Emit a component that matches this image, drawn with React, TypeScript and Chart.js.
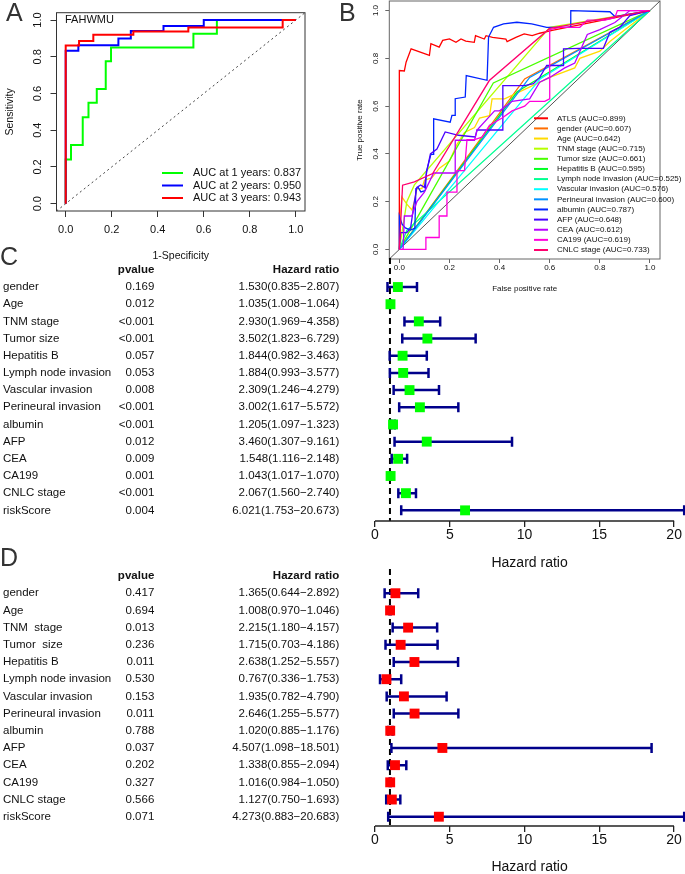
import React, { useEffect, useRef } from 'react';
import { Chart, registerables } from 'chart.js';

Chart.register(...registerables);

const FONT = '"Liberation Sans", Arial, Helvetica, sans-serif';
const INK = '#111111';

/* ---------------- Panel A : time-dependent ROC (FAHWMU) ---------------- */
const rocATag = 'FAHWMU';
const rocTicks = [0, 0.2, 0.4, 0.6, 0.8, 1.0];
const rocLimits = [-0.04, 1.04];
const rocALabels = ['AUC at 1 years: 0.837', 'AUC at 2 years: 0.950', 'AUC at 3 years: 0.943'];
const rocAColors = ['#00FF00', '#0000FF', '#FF0000'];
const rocA1Fpr = [0, 0, 0.023, 0.074, 0.099, 0.135, 0.174, 0.197, 0.555, 0.657, 1];
const rocA1Tpr = [0, 0.24, 0.32, 0.47, 0.55, 0.625, 0.775, 0.85, 0.925, 1, 1];
const rocA2Fpr = [0, 0, 0.055, 0.229, 0.283, 0.425, 0.6, 1];
const rocA2Tpr = [0, 0.833, 0.863, 0.9, 0.94, 0.968, 1, 1];
const rocA3Fpr = [0, 0, 0.058, 0.12, 0.294, 0.533, 0.943, 1];
const rocA3Tpr = [0, 0.862, 0.886, 0.92, 0.937, 0.96, 1, 1];

/* ---------------- Panel B : ROC of each factor ---------------- */
const rocBNames = ['ATLS', 'gender', 'Age', 'TNM stage', 'Tumor size', 'Hepatitis B', 'Lymph node invasion',
  'Vascular invasion', 'Perineural invasion', 'albumin', 'AFP', 'CEA', 'CA199', 'CNLC stage'];
const rocBAuc = [0.899, 0.607, 0.642, 0.715, 0.661, 0.595, 0.525, 0.576, 0.600, 0.787, 0.648, 0.612, 0.619, 0.733];
const rocBColors = ['#FF0000', '#FF6D00', '#FFDB00', '#B6FF00', '#49FF00', '#00FF24', '#00FF92',
  '#00FFFF', '#0092FF', '#0024FF', '#4900FF', '#B600FF', '#FF00DB', '#FF006D'];

const atlsFpr = [0, 0, 0.02, 0.027, 0.047, 0.12, 0.126, 0.159, 0.173, 0.2, 0.226, 0.246, 0.265, 0.299, 0.304, 0.339, 0.346, 0.372, 0.425, 0.43, 0.465, 0.498, 0.53, 0.56, 0.61, 1];
const atlsTpr = [0, 0.749, 0.747, 0.784, 0.84, 0.812, 0.861, 0.847, 0.875, 0.881, 0.867, 0.881, 0.872, 0.867, 0.895, 0.881, 0.895, 0.888, 0.881, 0.87, 0.888, 0.902, 0.895, 0.905, 0.917, 1];
const genderFpr = [0, 0.5, 1];
const genderTpr = [0, 0.714, 1];
const ageFpr = [0, 0.005, 0.01, 0.03, 0.05, 0.06, 0.07, 0.09, 0.1, 0.13, 0.16, 0.2, 0.23, 0.26, 0.3, 0.32, 0.36, 0.37, 0.42, 0.5, 0.6, 0.7, 0.72, 0.8, 0.84, 0.9, 1];
const ageTpr = [0, 0.15, 0.22, 0.19, 0.165, 0.2, 0.255, 0.255, 0.29, 0.3, 0.34, 0.37, 0.44, 0.49, 0.51, 0.55, 0.56, 0.63, 0.63, 0.67, 0.72, 0.76, 0.8, 0.83, 0.87, 0.92, 1];
const tnmFpr = [0, 0.03, 0.06, 0.6, 1];
const tnmTpr = [0, 0.2, 0.27, 0.93, 1];
const tumorFpr = [0, 0.375, 1];
const tumorTpr = [0, 0.697, 1];
const hepbFpr = [0, 0.47, 1];
const hepbTpr = [0, 0.66, 1];
const lymphFpr = [0, 0.03, 1];
const lymphTpr = [0, 0.08, 1];
const vascFpr = [0, 0.563, 1];
const vascTpr = [0, 0.715, 1];
const periFpr = [0, 0.52, 1];
const periTpr = [0, 0.72, 1];
const albuminFpr = [0, 0, 0.011, 0.024, 0.045, 0.062, 0.066, 0.075, 0.086, 0.1, 0.104, 0.108, 0.126, 0.137, 0.137, 0.203, 0.21, 0.223, 0.223, 0.263, 0.267, 0.35, 0.356, 0.376, 0.416, 0.469, 0.528, 0.588, 0.681, 0.684, 0.84, 0.86, 1];
const albuminTpr = [0, 0.14, 0.106, 0.09, 0.081, 0.089, 0.255, 0.26, 0.241, 0.245, 0.248, 0.325, 0.398, 0.398, 0.547, 0.533, 0.561, 0.561, 0.631, 0.638, 0.728, 0.708, 0.889, 0.93, 0.944, 0.951, 0.944, 0.93, 0.93, 1.0, 0.995, 0.975, 1];
const afpFpr = [0, 0.005, 0.03, 0.045, 0.06, 0.07, 0.085, 0.1, 0.11, 0.124, 0.15, 0.183, 0.236, 0.303, 0.31, 0.36, 0.413, 0.413, 0.5, 0.535, 0.56, 0.588, 0.655, 0.655, 0.714, 0.814, 0.84, 0.88, 0.92, 1];
const afpTpr = [0, 0.07, 0.07, 0.09, 0.2, 0.26, 0.27, 0.26, 0.33, 0.4, 0.42, 0.492, 0.478, 0.471, 0.5, 0.5, 0.5, 0.686, 0.686, 0.694, 0.72, 0.77, 0.77, 0.84, 0.842, 0.842, 0.909, 0.93, 0.979, 1];
const ceaFpr = [0, 0.015, 0.02, 0.05, 0.07, 0.1, 0.137, 0.223, 0.223, 0.3, 0.31, 0.38, 0.4, 0.45, 0.52, 0.56, 0.6, 0.66, 0.7, 0.75, 0.8, 0.86, 0.92, 1];
const ceaTpr = [0, 0.0, 0.14, 0.14, 0.2, 0.24, 0.32, 0.32, 0.457, 0.457, 0.5, 0.58, 0.58, 0.62, 0.63, 0.7, 0.72, 0.76, 0.78, 0.9, 0.92, 0.95, 1, 1];
const ca199Fpr = [0, 0.106, 0.106, 0.159, 0.159, 0.19, 0.19, 0.23, 0.23, 0.26, 0.27, 0.3, 0.33, 0.36, 0.41, 0.45, 0.5, 0.52, 0.58, 0.6, 0.6, 0.64, 0.72, 0.75, 0.82, 0.86, 0.87, 1];
const ca199Tpr = [0, 0, 0.05, 0.05, 0.14, 0.14, 0.24, 0.24, 0.33, 0.33, 0.46, 0.46, 0.47, 0.52, 0.55, 0.58, 0.6, 0.62, 0.62, 0.63, 0.92, 0.93, 0.93, 0.96, 0.96, 0.97, 1, 1];
const cnlcFpr = [0, 0.013, 0.06, 0.133, 0.359, 0.6, 1];
const cnlcTpr = [0, 0.269, 0.283, 0.318, 0.707, 0.925, 1];

const rocBFpr = [atlsFpr, genderFpr, ageFpr, tnmFpr, tumorFpr, hepbFpr, lymphFpr, vascFpr, periFpr, albuminFpr, afpFpr, ceaFpr, ca199Fpr, cnlcFpr];
const rocBTpr = [atlsTpr, genderTpr, ageTpr, tnmTpr, tumorTpr, hepbTpr, lymphTpr, vascTpr, periTpr, albuminTpr, afpTpr, ceaTpr, ca199Tpr, cnlcTpr];

/* ---------------- Panel C : univariate Cox ---------------- */
const forestCNames = ['gender', 'Age', 'TNM stage', 'Tumor size', 'Hepatitis B', 'Lymph node invasion', 'Vascular invasion',
  'Perineural invasion', 'albumin', 'AFP', 'CEA', 'CA199', 'CNLC stage', 'riskScore'];
const forestCP = ['0.169', '0.012', '<0.001', '<0.001', '0.057', '0.053', '0.008', '<0.001', '<0.001', '0.012', '0.009', '0.001', '<0.001', '0.004'];
const forestCHr = [1.530, 1.035, 2.930, 3.502, 1.844, 1.884, 2.309, 3.002, 1.205, 3.460, 1.548, 1.043, 2.067, 6.021];
const forestCLo = [0.835, 1.008, 1.969, 1.823, 0.982, 0.993, 1.246, 1.617, 1.097, 1.307, 1.116, 1.017, 1.560, 1.753];
const forestCHi = [2.807, 1.064, 4.358, 6.729, 3.463, 3.577, 4.279, 5.572, 1.323, 9.161, 2.148, 1.070, 2.740, 20.673];

/* ---------------- Panel D : multivariate Cox ---------------- */
const forestDNames = ['gender', 'Age', 'TNM  stage', 'Tumor  size', 'Hepatitis B', 'Lymph node invasion', 'Vascular invasion',
  'Perineural invasion', 'albumin', 'AFP', 'CEA', 'CA199', 'CNLC stage', 'riskScore'];
const forestDP = ['0.417', '0.694', '0.013', '0.236', '0.011', '0.530', '0.153', '0.011', '0.788', '0.037', '0.202', '0.327', '0.566', '0.071'];
const forestDHr = [1.365, 1.008, 2.215, 1.715, 2.638, 0.767, 1.935, 2.646, 1.020, 4.507, 1.338, 1.016, 1.127, 4.273];
const forestDLo = [0.644, 0.970, 1.180, 0.703, 1.252, 0.336, 0.782, 1.255, 0.885, 1.098, 0.855, 0.984, 0.750, 0.883];
const forestDHi = [2.892, 1.046, 4.157, 4.186, 5.557, 1.753, 4.790, 5.577, 1.176, 18.501, 2.094, 1.050, 1.693, 20.683];

const forestTicks = [0, 5, 10, 15, 20];
const forestRef = 1;

/* ---------------- helpers ---------------- */
const zipPts = (xs: number[], ys: number[]) => xs.map((x, i) => ({ x, y: ys[i] }));

function buildRoc(canvas: HTMLCanvasElement, spec: any) {
  const lim = rocLimits;
  const datasets: any[] = spec.curves.map((c: any, i: number) => ({
    label: c.label,
    data: zipPts(c.fpr, c.tpr),
    borderColor: c.color,
    backgroundColor: c.color,
    borderWidth: spec.curveWidth,
    pointRadius: 0,
    showLine: true,
    fill: false,
    tension: 0,
    stepped: spec.stepped ? 'before' : false,
    order: spec.curves.length - i,
  }));
  datasets.push({
    label: 'diagonal',
    data: [{ x: lim[0], y: lim[0] }, { x: lim[1], y: lim[1] }],
    borderColor: spec.diagColor,
    borderWidth: 1,
    borderDash: spec.diagDash,
    pointRadius: 0,
    showLine: true,
    fill: false,
    order: 99,
  });
  const tickFont = { family: FONT, size: spec.tickFont };
  const fmt = (v: any) => Number(v).toFixed(1);
  const decor = {
    id: 'rocDecor',
    beforeDatasetsDraw(chart: any) {
      const { ctx, chartArea: a } = chart;
      ctx.save();
      ctx.strokeStyle = spec.frameColor;
      ctx.lineWidth = 1;
      ctx.strokeRect(a.left, a.top, a.right - a.left, a.bottom - a.top);
      ctx.restore();
    },
    afterDatasetsDraw(chart: any) {
      const { ctx, chartArea: a } = chart;
      const L = spec.legend;
      ctx.save();
      ctx.font = `${L.font}px ${FONT}`;
      ctx.textBaseline = 'middle';
      ctx.textAlign = 'left';
      spec.curves.forEach((c: any, i: number) => {
        const yy = a.top + L.dy + i * L.gap;
        ctx.strokeStyle = c.color;
        ctx.lineWidth = L.lineWidth;
        ctx.beginPath();
        ctx.moveTo(a.left + L.dx, yy);
        ctx.lineTo(a.left + L.dx + L.lineLen, yy);
        ctx.stroke();
        ctx.fillStyle = INK;
        ctx.fillText(c.label, a.left + L.textDx, yy);
      });
      if (spec.tag) {
        ctx.font = `${spec.tag.font}px ${FONT}`;
        ctx.fillStyle = INK;
        ctx.fillText(spec.tag.text, a.left + spec.tag.dx, a.top + spec.tag.dy);
      }
      ctx.restore();
    },
  };
  return new Chart(canvas, {
    type: 'scatter',
    data: { datasets },
    options: {
      responsive: false,
      animation: false,
      events: [],
      layout: { padding: spec.padding, autoPadding: false },
      plugins: { legend: { display: false }, tooltip: { enabled: false } },
      scales: {
        x: {
          type: 'linear',
          min: lim[0],
          max: lim[1],
          afterBuildTicks: (s: any) => { s.ticks = rocTicks.map((v) => ({ value: v })); },
          afterFit: (s: any) => {
            s.height = spec.xAxisHeight;
            s.paddingLeft = 0; s.paddingRight = 0; s.paddingTop = 0; s.paddingBottom = 0;
          },
          grid: { drawOnChartArea: false, drawTicks: true, tickLength: spec.tickLen, color: spec.frameColor, lineWidth: 1 },
          border: { display: false },
          ticks: { font: tickFont, color: INK, padding: spec.xTickPad, maxRotation: 0, minRotation: 0, autoSkip: false, callback: fmt },
          title: { display: true, text: spec.xTitle, color: INK, font: { family: FONT, size: spec.titleFont }, padding: { top: 0, bottom: 0 } },
        },
        y: {
          type: 'linear',
          min: lim[0],
          max: lim[1],
          afterBuildTicks: (s: any) => { s.ticks = rocTicks.map((v) => ({ value: v })); },
          afterFit: (s: any) => {
            s.width = spec.yAxisWidth;
            s.paddingLeft = 0; s.paddingRight = 0; s.paddingTop = 0; s.paddingBottom = 0;
          },
          grid: { drawOnChartArea: false, drawTicks: true, tickLength: spec.tickLen, color: spec.frameColor, lineWidth: 1 },
          border: { display: false },
          ticks: { font: tickFont, color: INK, padding: spec.yTickPad, minRotation: 90, maxRotation: 90, crossAlign: 'center', autoSkip: false, callback: fmt },
          title: { display: true, text: spec.yTitle, color: INK, font: { family: FONT, size: spec.titleFont }, padding: { top: spec.yTitlePad, bottom: 0 } },
        },
      },
    } as any,
    plugins: [decor],
  });
}

function buildForest(canvas: HTMLCanvasElement, spec: any) {
  const xMax = Math.max(...spec.hi);
  const decor = {
    id: 'forestDecor',
    beforeDatasetsDraw(chart: any) {
      const { ctx, chartArea: a, scales } = chart;
      const x = scales.x;
      const y = scales.y;
      ctx.save();
      // reference line HR = 1
      const xr = x.getPixelForValue(forestRef);
      ctx.setLineDash([6, 4]);
      ctx.lineWidth = 2;
      ctx.strokeStyle = '#000';
      ctx.beginPath();
      ctx.moveTo(xr, a.top);
      ctx.lineTo(xr, a.bottom);
      ctx.stroke();
      ctx.setLineDash([]);
      // axis line between first and last tick
      ctx.lineWidth = 1.3;
      ctx.strokeStyle = '#222';
      ctx.beginPath();
      ctx.moveTo(x.getPixelForValue(forestTicks[0]), a.bottom);
      ctx.lineTo(x.getPixelForValue(forestTicks[forestTicks.length - 1]), a.bottom);
      ctx.stroke();
      // confidence intervals
      ctx.strokeStyle = spec.barColor;
      ctx.lineWidth = 2.5;
      spec.lo.forEach((lo: number, i: number) => {
        const yy = y.getPixelForValue(i);
        const xl = x.getPixelForValue(lo);
        const xh = x.getPixelForValue(spec.hi[i]);
        ctx.beginPath();
        ctx.moveTo(xl, yy); ctx.lineTo(xh, yy);
        ctx.moveTo(xl, yy - 5); ctx.lineTo(xl, yy + 5);
        ctx.moveTo(xh, yy - 5); ctx.lineTo(xh, yy + 5);
        ctx.stroke();
      });
      ctx.restore();
    },
    afterDraw(chart: any) {
      const { ctx, scales } = chart;
      const y = scales.y;
      ctx.save();
      ctx.fillStyle = INK;
      ctx.textBaseline = 'middle';
      const yh = y.getPixelForValue(-1);
      ctx.font = `bold ${spec.textSize}px ${FONT}`;
      ctx.textAlign = 'right';
      ctx.fillText('pvalue', spec.pX, yh);
      ctx.fillText('Hazard ratio', spec.hrX, yh);
      ctx.font = `${spec.textSize}px ${FONT}`;
      spec.names.forEach((n: string, i: number) => {
        const yy = y.getPixelForValue(i);
        ctx.textAlign = 'left';
        ctx.fillText(n, spec.nameX, yy);
        ctx.textAlign = 'right';
        ctx.fillText(spec.p[i], spec.pX, yy);
        ctx.fillText(`${spec.hr[i].toFixed(3)}(${spec.lo[i].toFixed(3)}\u2212${spec.hi[i].toFixed(3)})`, spec.hrX, yy);
      });
      ctx.restore();
    },
  };
  return new Chart(canvas, {
    type: 'scatter',
    data: {
      datasets: [{
        label: 'HR',
        data: zipPts(spec.hr, spec.hr.map((_: number, i: number) => i)),
        pointStyle: 'rect',
        pointRadius: 7,
        backgroundColor: spec.boxColor,
        borderWidth: 0,
        showLine: false,
        clip: false,
      }],
    },
    options: {
      responsive: false,
      animation: false,
      events: [],
      layout: { padding: spec.padding, autoPadding: false },
      plugins: { legend: { display: false }, tooltip: { enabled: false } },
      scales: {
        x: {
          type: 'linear',
          min: 0,
          max: xMax,
          afterBuildTicks: (s: any) => { s.ticks = forestTicks.map((v) => ({ value: v })); },
          afterFit: (s: any) => {
            s.height = spec.xAxisHeight;
            s.paddingLeft = 0; s.paddingRight = 0; s.paddingTop = 0; s.paddingBottom = 0;
          },
          grid: { drawOnChartArea: false, drawTicks: true, tickLength: 6, color: '#222', lineWidth: 1.3 },
          border: { display: false },
          ticks: { font: { family: FONT, size: 14 }, color: INK, padding: 0, maxRotation: 0, autoSkip: false, callback: (v: any) => String(v) },
          title: { display: true, text: 'Hazard ratio', color: INK, font: { family: FONT, size: 14, lineHeight: 1 }, padding: { top: 0, bottom: 0 } },
        },
        y: {
          type: 'linear',
          display: false,
          reverse: true,
          min: spec.yMin,
          max: spec.yMax,
        },
      },
    } as any,
    plugins: [decor],
  });
}

export default function App() {
  const aRef = useRef<HTMLCanvasElement>(null);
  const bRef = useRef<HTMLCanvasElement>(null);
  const cRef = useRef<HTMLCanvasElement>(null);
  const dRef = useRef<HTMLCanvasElement>(null);

  useEffect(() => {
    const charts: Chart[] = [];
    charts.push(buildRoc(aRef.current!, {
      curves: [
        { fpr: rocA1Fpr, tpr: rocA1Tpr, color: rocAColors[0], label: rocALabels[0] },
        { fpr: rocA2Fpr, tpr: rocA2Tpr, color: rocAColors[1], label: rocALabels[1] },
        { fpr: rocA3Fpr, tpr: rocA3Tpr, color: rocAColors[2], label: rocALabels[2] },
      ],
      stepped: true,
      curveWidth: 2,
      diagColor: '#444',
      diagDash: [2, 3],
      frameColor: '#333',
      tickFont: 11,
      titleFont: 10.5,
      xTitle: '1-Specificity',
      yTitle: 'Sensitivity',
      yAxisWidth: 56.5,
      xAxisHeight: 51,
      padding: { left: 0, top: 12.7, right: 35, bottom: 0 },
      tickLen: 6,
      xTickPad: 6,
      yTickPad: 5,
      yTitlePad: 4,
      legend: { dx: 105.5, dy: 160.3, gap: 12.5, lineLen: 21, textDx: 136.5, font: 11, lineWidth: 2 },
      tag: { text: rocATag, dx: 8.5, dy: 7.3, font: 11 },
    }));
    charts.push(buildRoc(bRef.current!, {
      curves: rocBNames.map((n, i) => ({
        fpr: rocBFpr[i], tpr: rocBTpr[i], color: rocBColors[i], label: `${n} (AUC=${rocBAuc[i].toFixed(3)})`,
      })),
      stepped: false,
      curveWidth: 1.3,
      diagColor: '#555',
      diagDash: [],
      frameColor: '#666',
      tickFont: 8,
      titleFont: 8,
      xTitle: 'False positive rate',
      yTitle: 'True positive rate',
      yAxisWidth: 49.3,
      xAxisHeight: 35,
      padding: { left: 0, top: 1, right: 25, bottom: 0 },
      tickLen: 4,
      xTickPad: 0,
      yTickPad: 4,
      yTitlePad: 15,
      legend: { dx: 144.7, dy: 117.3, gap: 10.13, lineLen: 14, textDx: 167.7, font: 8, lineWidth: 2 },
    }));
    charts.push(buildForest(cRef.current!, {
      names: forestCNames, p: forestCP, hr: forestCHr, lo: forestCLo, hi: forestCHi,
      boxColor: '#00FF00', barColor: '#00008B',
      padding: { left: 375, right: 0.8, top: 23, bottom: 0 },
      xAxisHeight: 49, yMin: -1.69, yMax: 13.62,
      textSize: 11.5, nameX: 3, pX: 154.3, hrX: 339.3,
    }));
    charts.push(buildForest(dRef.current!, {
      names: forestDNames, p: forestDP, hr: forestDHr, lo: forestDLo, hi: forestDHi,
      boxColor: '#FF0000', barColor: '#00008B',
      padding: { left: 375, right: 0.8, top: 29, bottom: 0 },
      xAxisHeight: 48, yMin: -1.41, yMax: 13.54,
      textSize: 11.5, nameX: 3, pX: 154.3, hrX: 339.3,
    }));
    return () => charts.forEach((c) => c.destroy());
  }, []);

  const letter: React.CSSProperties = {
    position: 'absolute', fontFamily: FONT, fontSize: 25, lineHeight: '25px', color: '#333', margin: 0,
  };

  return (
    <div style={{ position: 'absolute', left: 0, top: 0, width: 685, height: 874, overflow: 'hidden', background: '#fff' }}>
      <canvas ref={aRef} width={340} height={262} style={{ position: 'absolute', left: 0, top: 0 }} />
      <canvas ref={bRef} width={345} height={294} style={{ position: 'absolute', left: 340, top: 0 }} />
      <canvas ref={cRef} width={685} height={335} style={{ position: 'absolute', left: 0, top: 235 }} />
      <canvas ref={dRef} width={685} height={334} style={{ position: 'absolute', left: 0, top: 540 }} />
      <div style={{ ...letter, left: 6, top: 0 }}>A</div>
      <div style={{ ...letter, left: 339, top: 0 }}>B</div>
      <div style={{ ...letter, left: 0, top: 244 }}>C</div>
      <div style={{ ...letter, left: 0, top: 545 }}>D</div>
    </div>
  );
}
